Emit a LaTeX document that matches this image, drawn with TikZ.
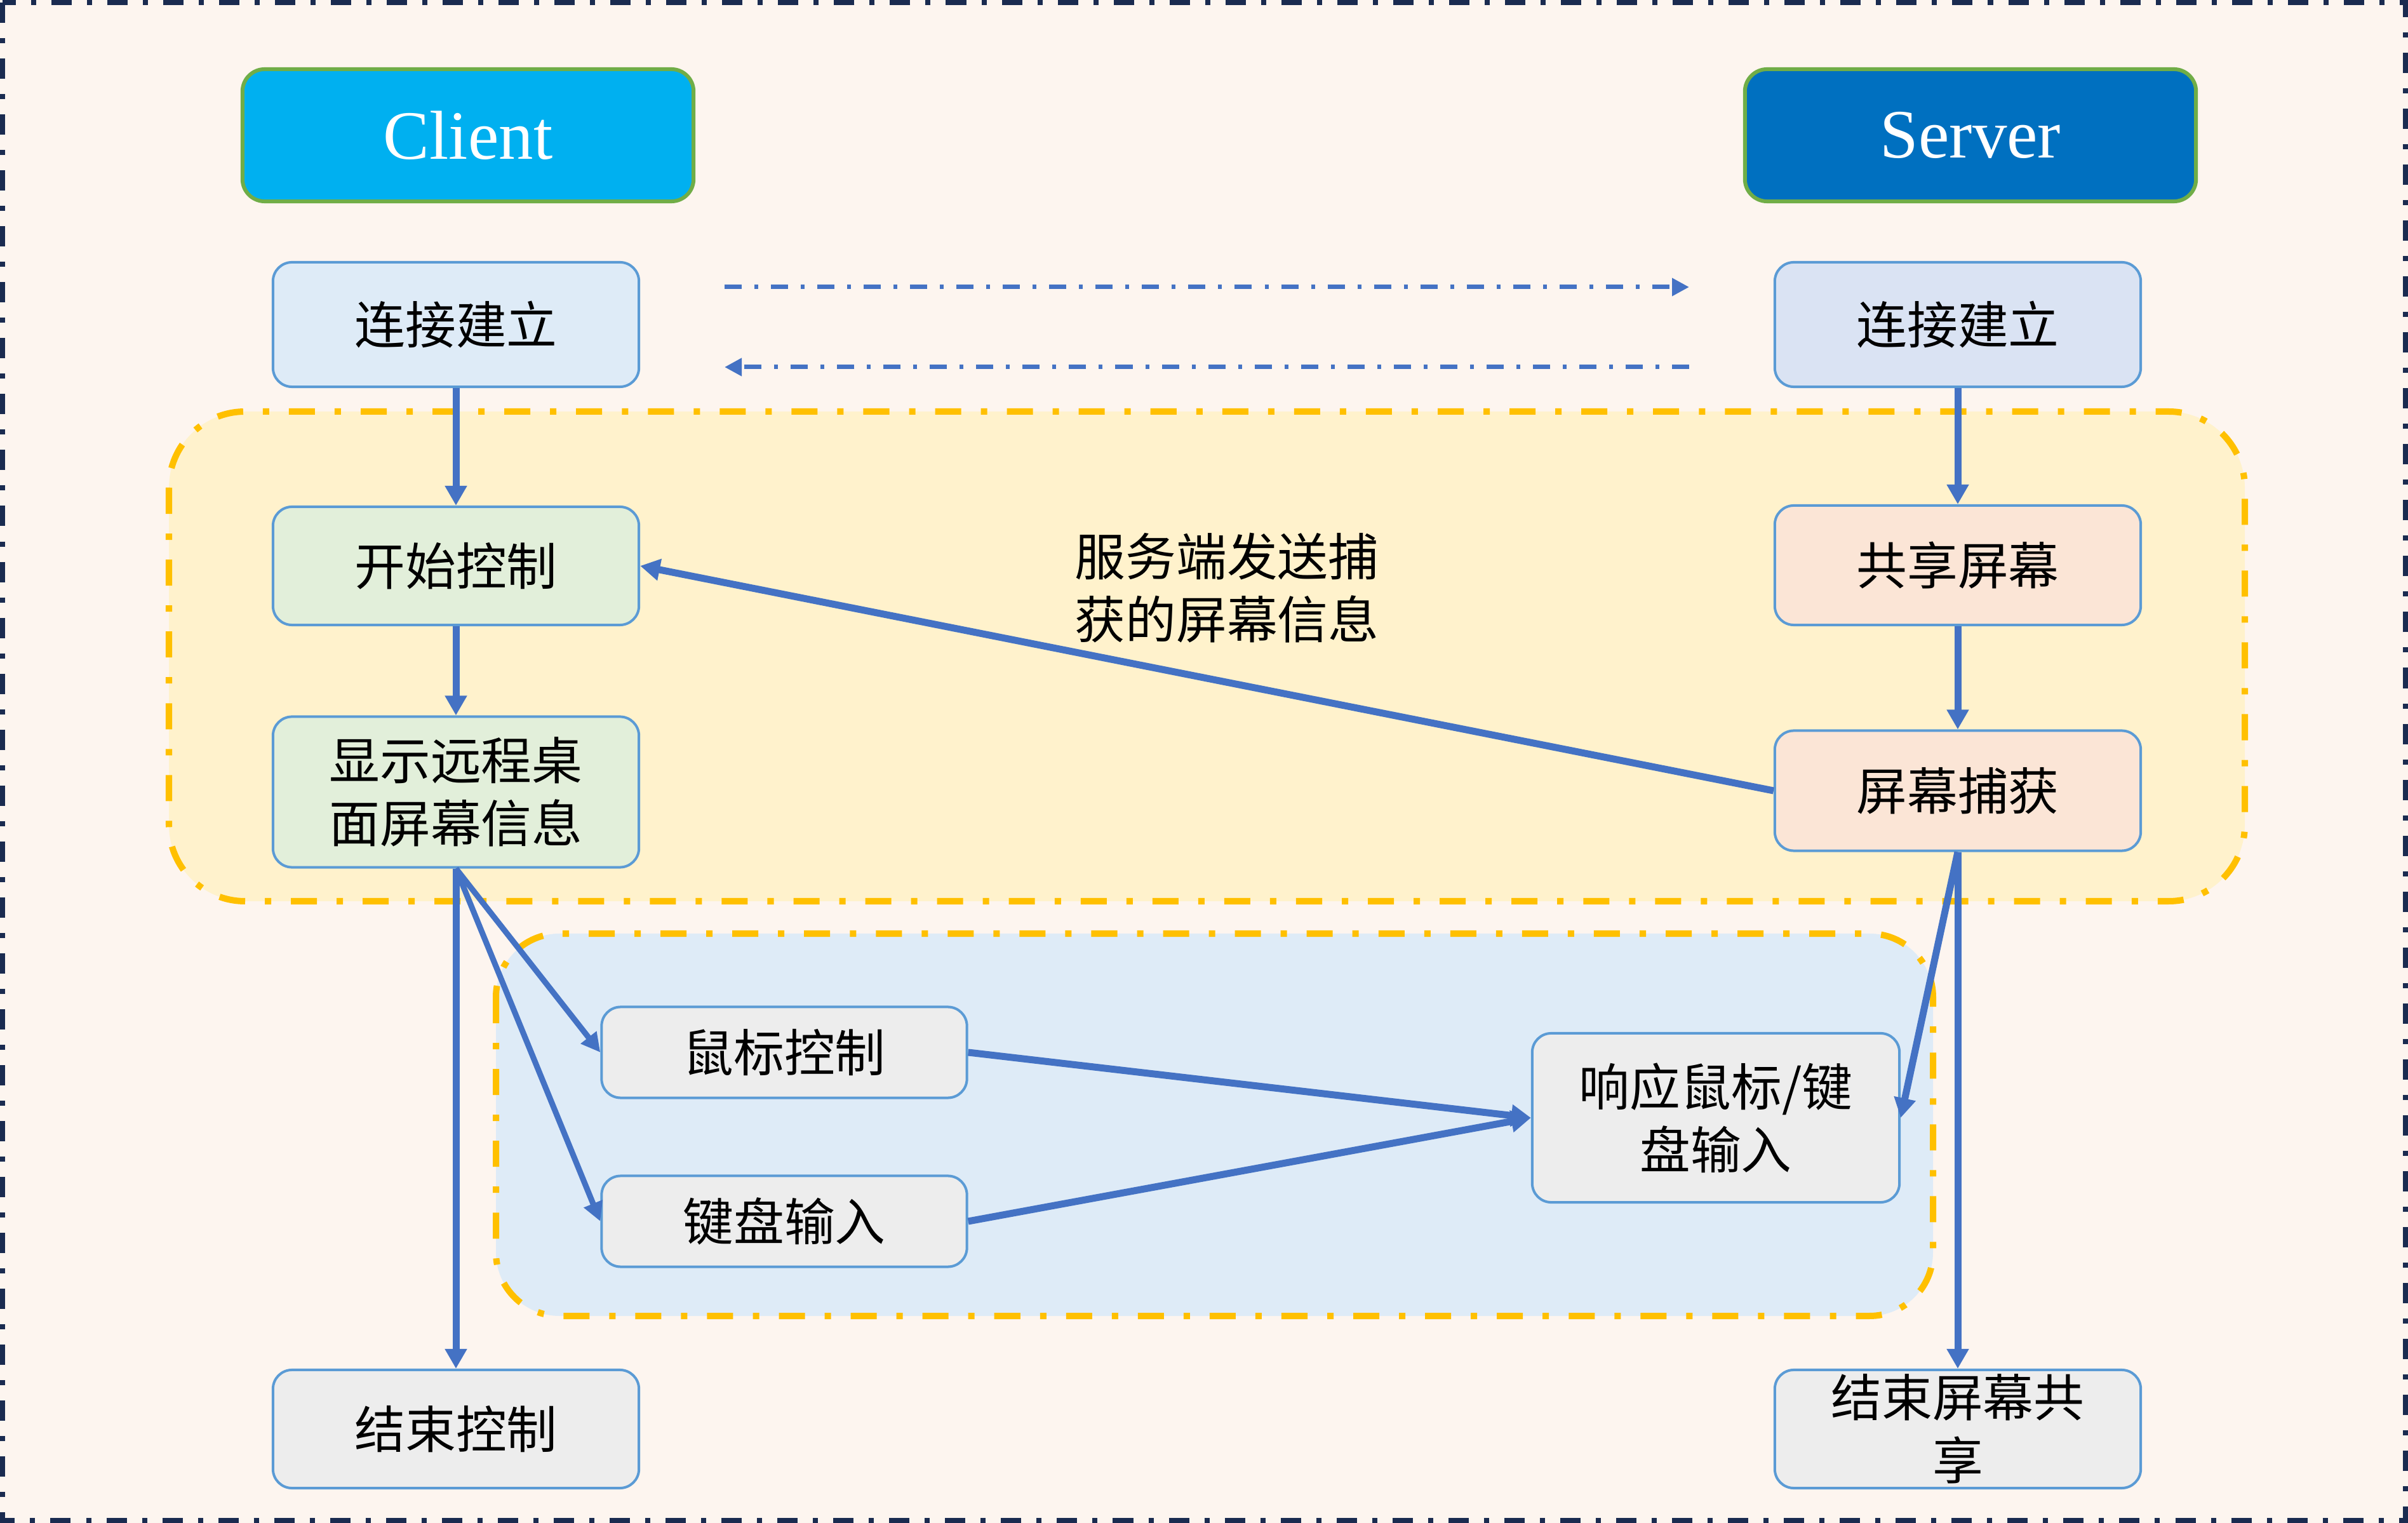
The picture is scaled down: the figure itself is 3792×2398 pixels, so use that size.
\documentclass[tikz,border=0pt]{standalone}
\usepackage{fontspec}
\setmainfont{Liberation Serif}
\newfontfamily\cjk{Noto Sans CJK SC}
\usetikzlibrary{arrows.meta}

\definecolor{pagebg}{HTML}{FDF5EF}
\definecolor{frameline}{HTML}{1A2B50}
\definecolor{zoneY}{HTML}{FFF2CC}
\definecolor{zoneB}{HTML}{DEEBF7}
\definecolor{zoneEdge}{HTML}{FFC000}
\definecolor{linkc}{HTML}{4472C4}
\definecolor{boxEdge}{HTML}{5B9BD5}
\definecolor{fillBlue}{HTML}{DEEBF7}
\definecolor{fillBlueB}{HTML}{DAE3F3}
\definecolor{fillGreen}{HTML}{E2EFDA}
\definecolor{fillPeach}{HTML}{FBE5D6}
\definecolor{fillGray}{HTML}{EDEDED}
\definecolor{headCyan}{HTML}{00B0F0}
\definecolor{headNavy}{HTML}{0070C0}
\definecolor{headEdge}{HTML}{70AD47}

\tikzset{
  proc/.style={draw=boxEdge, line width=0.04cm, rounded corners=0.3cm,
    minimum width=5.76cm, align=center, inner sep=0pt,
    font=\cjk\fontsize{22.7}{28.2}\selectfont},
  head/.style={draw=headEdge, line width=0.06cm, rounded corners=0.35cm,
    minimum width=7.1cm, minimum height=2.08cm, text=white, inner sep=0pt,
    font=\fontsize{31}{36}\selectfont},
  zone/.style={draw=zoneEdge, line width=0.10cm,
    dash pattern=on 0.41cm off 0.31cm on 0.10cm off 0.31cm},
  flow/.style={draw=linkc, line width=0.11cm,
    -{Triangle[length=0.31cm,width=0.33cm]}},
  thinflow/.style={draw=linkc, line width=0.09cm,
    -{Triangle[length=0.3cm,width=0.3cm]}},
  handshake/.style={draw=linkc, line width=0.07cm,
    dash pattern=on 0.27cm off 0.2cm on 0.06cm off 0.2cm,
    -{Triangle[length=0.27cm,width=0.27cm]}},
  note/.style={align=center, inner sep=0pt,
    font=\cjk\fontsize{22.7}{28.2}\selectfont}
}

\begin{document}
\begin{tikzpicture}[x=0.01cm, y=-0.01cm]
  % page background and frame
  \fill[pagebg] (0,0) rectangle (3792,2398);
  \useasboundingbox (0,0) rectangle (3792,2398);
  \draw[frameline, line width=0.08cm,
    dash pattern=on 0.32cm off 0.24cm on 0.08cm off 0.24cm]
    (4,4) rectangle (3788,2394);

  % grouping zones
  \draw[zone, fill=zoneY, rounded corners=1.2cm] (266,648) rectangle (3535,1419);
  \draw[zone, fill=zoneB, rounded corners=1.0cm] (781,1470) rectangle (3044,2072);

  % headers
  \node[head, fill=headCyan] (client) at (737,213) {Client};
  \node[head, fill=headNavy] (server) at (3103,213) {Server};

  % client column
  \node[proc, fill=fillBlue,  minimum height=1.96cm] (connL)  at (718,511)  {连接建立};
  \node[proc, fill=fillGreen, minimum height=1.86cm] (startC) at (718,891)  {开始控制};
  \node[proc, fill=fillGreen, minimum height=2.37cm] (showC)  at (718,1247) {显示远程桌\\面屏幕信息};
  \node[proc, fill=fillGray,  minimum height=1.86cm] (endC)   at (718,2250) {结束控制};

  % server column
  \node[proc, fill=fillBlueB, minimum height=1.96cm] (connR)  at (3083,511)  {连接建立};
  \node[proc, fill=fillPeach, minimum height=1.88cm] (shareS) at (3083,890)  {共享屏幕};
  \node[proc, fill=fillPeach, minimum height=1.89cm] (capS)   at (3083,1245) {屏幕捕获};
  \node[proc, fill=fillGray,  minimum height=1.86cm] (endS)   at (3083,2250) {结束屏幕共\\享};

  % input handling
  \node[proc, fill=fillGray, minimum width=5.75cm, minimum height=1.43cm] (mouse) at (1235,1657) {鼠标控制};
  \node[proc, fill=fillGray, minimum width=5.75cm, minimum height=1.43cm] (keyb)  at (1235,1923) {键盘输入};
  \node[proc, fill=fillGray, minimum width=5.78cm, minimum height=2.66cm] (resp)  at (2702,1760) {响应鼠标/键\\盘输入};

  % caption of the screen transfer
  \node[note] (sendnote) at (1932,926) {服务端发送捕\\获的屏幕信息};

  % connection handshake
  \coordinate (hsA1) at (1141,452);
  \coordinate (hsA2) at (2660,452);
  \coordinate (hsB1) at (2660,578);
  \coordinate (hsB2) at (1141,578);
  \draw[handshake] (hsA1) -- (hsA2);
  \draw[handshake] (hsB1) -- (hsB2);

  % flow
  \draw[flow] (connL) -- (startC);
  \draw[flow] (startC) -- (showC);
  \draw[flow] (connR) -- (shareS);
  \draw[flow] (shareS) -- (capS);
  \draw[flow] (capS.west) -- (startC.east);
  \draw[thinflow] (showC.south) -- (mouse.west);
  \draw[thinflow] (showC.south) -- (keyb.west);
  \draw[flow] (showC.south) -- (endC.north);
  \draw[flow] (mouse.east) -- (resp.west);
  \draw[flow] (keyb.east) -- (resp.west);
  \draw[flow] (capS.south) -- (resp.east);
  \draw[flow] (capS.south) -- (endS.north);
\end{tikzpicture}
\end{document}
